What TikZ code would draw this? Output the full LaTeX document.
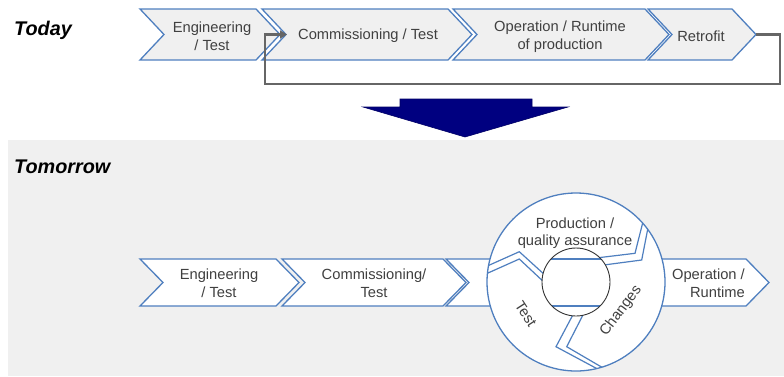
\documentclass[tikz,border=0pt]{standalone}
\usepackage{fontspec}
\setmainfont{Liberation Sans}
\usetikzlibrary{arrows.meta}
\definecolor{cblue}{HTML}{4F7FBF}
\definecolor{ctext}{HTML}{404040}
\definecolor{cgray}{HTML}{F0F0F0}
\definecolor{cloop}{HTML}{666666}
\definecolor{cnavy}{HTML}{000080}
\newcommand\chevshape[6]{\path[#6] (#1,#3) -- (#2,#3) -- ({#2+#5},{(#3+#4)/2}) -- (#2,#4) -- (#1,#4) -- ({#1+#5},{(#3+#4)/2}) -- cycle;}
\begin{document}
\begin{tikzpicture}[x=1pt,y=-1pt,
  chev/.style={draw=cblue,line width=1.3pt,line join=miter},
  lbl/.style={text=ctext,font=\fontsize{14.7}{17.6}\selectfont,align=center,inner sep=0pt},
  ttl/.style={font=\fontsize{19.8}{24}\selectfont\bfseries\itshape,anchor=west,inner sep=0pt},
  ringline/.style={draw=cblue,line width=1.2pt,line join=miter},
  fbline/.style={draw=cloop,line width=2.6pt,line join=miter}]
\useasboundingbox (0,0) rectangle (784,376);
% ---------- Today ----------
\node[ttl] (today) at (14,30.5) {Today};
\chevshape{140}{256}{9}{60}{24}{chev,fill=cgray}
\chevshape{262}{448}{9}{60}{24}{chev,fill=cgray}
\chevshape{453}{645}{9}{60}{24}{chev,fill=cgray}
\chevshape{648}{732}{9}{60}{24}{chev,fill=cgray}
\node[lbl] (t1) at (212,36.5) {Engineering\\/ Test};
\node[lbl] (t2) at (368,36) {Commissioning / Test};
\node[lbl] (t3) at (560,36.5) {Operation / Runtime\\of production};
\node[lbl] (t4) at (701,36) {Retrofit};
\coordinate (tipR) at (756,34.5);
\coordinate (lp1) at (780,34.5);
\coordinate (lp2) at (780,84);
\coordinate (lp3) at (265,84);
\coordinate (lp4) at (265,34.5);
\coordinate (notchC) at (287,34.5);
\draw[fbline,-{Triangle[length=7pt,width=8pt]}] (tipR) -- (lp1) -- (lp2) -- (lp3) -- (lp4) -- (notchC);
% ---------- transition arrow ----------
\fill[cgray] (8,140) rectangle (784,376);
\path[fill=cnavy,draw=cnavy!80!black,line width=0.6pt] (400,99) -- (532,99) -- (532,107) -- (568,107) -- (465,137) -- (363,107) -- (400,107) -- cycle;
% ---------- Tomorrow ----------
\node[ttl] (tomorrow) at (14,167) {Tomorrow};
\chevshape{140}{276}{259}{306}{23}{chev,fill=white}
\chevshape{282}{443}{259}{306}{23}{chev,fill=white}
\chevshape{446}{746}{259}{306}{23}{chev,fill=white}
\node[lbl] (b1) at (219,283.5) {Engineering\\/ Test};
\node[lbl] (b2) at (374,283.5) {Commissioning/\\Test};
\node[lbl,align=right,anchor=east] (b3) at (745,283.5) {Operation /\\Runtime};
% ring
\coordinate (C) at (576,282);
\fill[white] (C) circle (89pt);
\begin{scope}
  \clip (C) circle (89pt);
  \draw[ringline] (475,271.5) -- (519.3,251.7) -- (546,276);
  \draw[ringline] (475,278.8) -- (519.3,259) -- (546,284);
  \draw[ringline] (644.4,216) -- (635,253.3) -- (596,258);
  \draw[ringline] (649.5,220) -- (641.7,260) -- (600,265.5);
  \draw[ringline] (576,309) -- (556,346.7) -- (600,370.3);
  \draw[ringline] (586,309) -- (566.7,346.7) -- (604.2,368.6);
\end{scope}
\draw[cblue,line width=1.3pt] (C) circle (89pt);
\fill[white] (C) circle (34pt);
\begin{scope}
  \clip (C) circle (34pt);
  \draw[ringline] (530,259) -- (630,259);
  \draw[ringline] (530,306) -- (630,306);
\end{scope}
\draw[black!80,line width=0.9pt] (C) circle (34pt);
\node[lbl] (r1) at (575,233) {Production /\\quality assurance};
\node[lbl,rotate=-57] (r2) at (526,314) {Test};
\node[lbl,rotate=53] (r3) at (621,311) {Changes};
\end{tikzpicture}
\end{document}
